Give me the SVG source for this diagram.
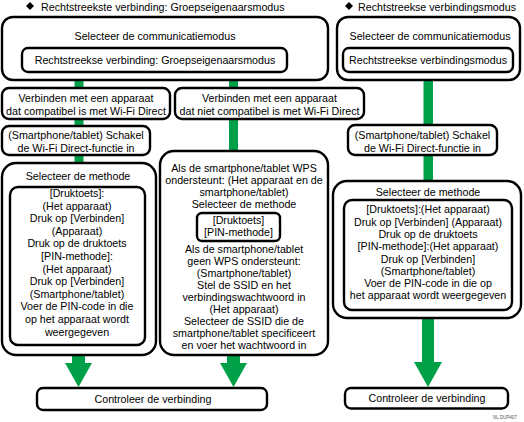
<svg xmlns="http://www.w3.org/2000/svg" width="524" height="422" viewBox="0 0 524 422">
<style>
text{font-family:"Liberation Sans",Arial,sans-serif;font-size:10.7px;fill:#000;text-anchor:middle}
.h{text-anchor:start}
.b{fill:#fff;stroke:#000;stroke-width:2.4}
.g{fill:#00a048}
.s{font-size:4.5px;fill:#555;text-anchor:start}
</style>
<rect width="524" height="422" fill="#fff"/>
<g id="connectors">
<rect class="g" x="74.5" y="78" width="9" height="88"/>
<rect class="g" x="229" y="78" width="9" height="74"/>
<rect class="g" x="423.5" y="78" width="9.5" height="103"/>
<polygon class="g" points="72,355 85,355 85,363 92,363 78.5,387 65,363 72,363"/>
<polygon class="g" points="227,355 240,355 240,363 247,363 233.5,387 220,363 227,363"/>
<polygon class="g" points="422,318 434,318 434,362 442,362 428,387 414,362 422,362"/>
</g>
<g id="head-left">
<polygon points="30,2 34,6 30,10 26,6" fill="#000"/>
<text class="h" x="41" y="10.5">Rechtstreekste verbinding: Groepseigenaarsmodus</text>
</g>
<g id="head-right">
<polygon points="349,2 353,6 349,10 345,6" fill="#000"/>
<text class="h" x="358" y="10.5">Rechtstreekse verbindingsmodus</text>
</g>
<g id="mode-left">
<rect class="b" x="2" y="17" width="326" height="63" rx="11"/>
<text x="155" y="40">Selecteer de communicatiemodus</text>
<rect class="b" x="22" y="48" width="265" height="24" rx="6"/>
<text x="155" y="64">Rechtstreekse verbinding: Groepseigenaarsmodus</text>
</g>
<g id="mode-right">
<rect class="b" x="337" y="17" width="183" height="63" rx="11"/>
<text x="430" y="40">Selecteer de communicatiemodus</text>
<rect class="b" x="343" y="48" width="170" height="24" rx="6"/>
<text x="428" y="64">Rechtstreekse verbindingsmodus</text>
</g>
<g id="compat">
<rect class="b" x="2" y="88" width="168" height="31" rx="7"/>
<text x="86" y="102">Verbinden met een apparaat</text>
<text x="86" y="115">dat compatibel is met Wi-Fi Direct</text>
</g>
<g id="noncompat">
<rect class="b" x="175" y="88" width="189" height="31" rx="7"/>
<text x="269.5" y="102">Verbinden met een apparaat</text>
<text x="269.5" y="115">dat niet compatibel is met Wi-Fi Direct</text>
</g>
<g id="wifi-left">
<rect class="b" x="2" y="126" width="148" height="29" rx="7"/>
<text x="76" y="139">(Smartphone/tablet) Schakel</text>
<text x="76" y="152">de Wi-Fi Direct-functie in</text>
</g>
<g id="method-left">
<rect class="b" x="2" y="163" width="154" height="192" rx="14"/>
<text x="78" y="180">Selecteer de methode</text>
<rect class="b" x="10" y="187" width="135" height="158" rx="8"/>
<text x="77" y="197">[Druktoets]:</text>
<text x="77" y="209.6">(Het apparaat)</text>
<text x="77" y="222.2">Druk op [Verbinden]</text>
<text x="77" y="234.8">(Apparaat)</text>
<text x="77" y="247.4">Druk op de druktoets</text>
<text x="77" y="260">[PIN-methode]:</text>
<text x="77" y="272.6">(Het apparaat)</text>
<text x="77" y="285.2">Druk op [Verbinden]</text>
<text x="77" y="297.8">(Smartphone/tablet)</text>
<text x="77" y="310.4">Voer de PIN-code in die</text>
<text x="77" y="323">op het apparaat wordt</text>
<text x="77" y="335.6">weergegeven</text>
</g>
<g id="method-mid">
<rect class="b" x="160" y="151" width="168" height="204" rx="14"/>
<text x="244" y="171.8">Als de smartphone/tablet WPS</text>
<text x="244" y="183.8">ondersteunt: (Het apparaat en de</text>
<text x="244" y="195.8">smartphone/tablet)</text>
<text x="244" y="207.8">Selecteer de methode</text>
<rect class="b" x="197" y="213" width="83" height="28" rx="5"/>
<text x="238.5" y="224.3">[Druktoets]</text>
<text x="238.5" y="236">[PIN-methode]</text>
<text x="244" y="252.8">Als de smartphone/tablet</text>
<text x="244" y="264.8">geen WPS ondersteunt:</text>
<text x="244" y="276.8">(Smartphone/tablet)</text>
<text x="244" y="288.8">Stel de SSID en het</text>
<text x="244" y="300.8">verbindingswachtwoord in</text>
<text x="244" y="312.8">(Het apparaat)</text>
<text x="244" y="324.8">Selecteer de SSID die de</text>
<text x="244" y="336.8">smartphone/tablet specificeert</text>
<text x="244" y="348.8">en voer het wachtwoord in</text>
</g>
<g id="wifi-right">
<rect class="b" x="348" y="125" width="149" height="30" rx="7"/>
<text x="422.5" y="139">(Smartphone/tablet) Schakel</text>
<text x="422.5" y="152">de Wi-Fi Direct-functie in</text>
</g>
<g id="method-right">
<rect class="b" x="333" y="181" width="188" height="137" rx="14"/>
<text x="428" y="196">Selecteer de methode</text>
<rect class="b" x="344" y="200" width="168" height="110" rx="8"/>
<text x="428" y="213.3">[Druktoets]:(Het apparaat)</text>
<text x="428" y="225.6">Druk op [Verbinden] (Apparaat)</text>
<text x="428" y="237.9">Druk op de druktoets</text>
<text x="428" y="250.2">[PIN-methode]:(Het apparaat)</text>
<text x="428" y="262.5">Druk op [Verbinden]</text>
<text x="428" y="274.8">(Smartphone/tablet)</text>
<text x="428" y="287.1">Voer de PIN-code in die op</text>
<text x="428" y="299.4">het apparaat wordt weergegeven</text>
</g>
<g id="check-left">
<rect class="b" x="37" y="388" width="230" height="22" rx="6"/>
<text x="153" y="402.8">Controleer de verbinding</text>
</g>
<g id="check-right">
<rect class="b" x="345" y="388" width="163" height="20.5" rx="6"/>
<text x="427" y="402">Controleer de verbinding</text>
</g>
<text class="s" x="493" y="419">NL DUP407</text>
</svg>
